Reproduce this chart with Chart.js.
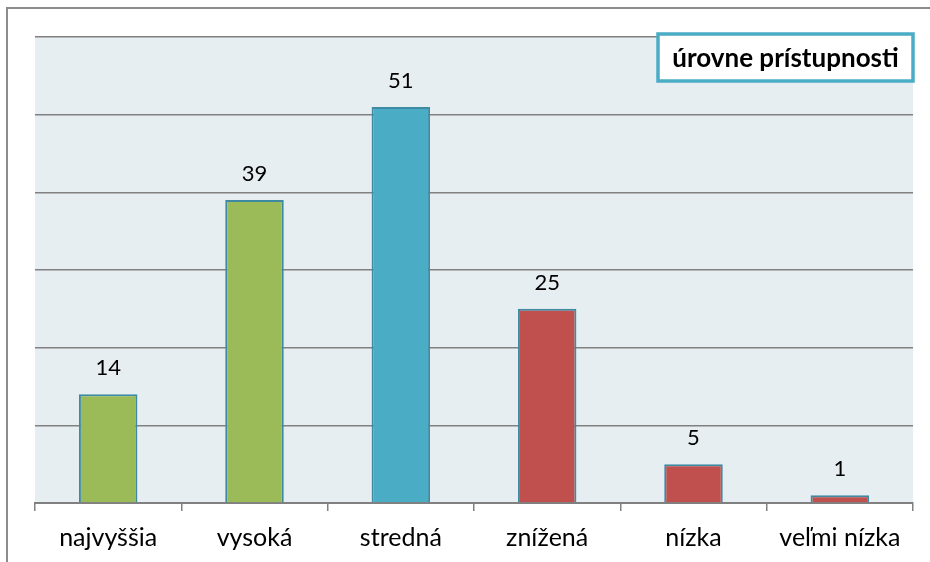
<!DOCTYPE html>
<html>
<head>
<meta charset="utf-8">
<script src="https://cdn.jsdelivr.net/npm/chart.js@4/dist/chart.umd.min.js"></script>
<style>
  html, body { margin: 0; padding: 0; background: #fff; }
  #wrap { width: 930px; height: 562px; position: relative; }
</style>
</head>
<body>
<div id="wrap"><canvas id="myChart"></canvas></div>
<script>
// categories and values
const categories = ['najvyššia', 'vysoká', 'stredná', 'znížená', 'nízka', 'veľmi nízka'];
const values = [14, 39, 51, 25, 5, 1];
const barColors = ['#9bbb59', '#9bbb59', '#4bacc6', '#c0504d', '#c0504d', '#c0504d'];
const legendText = 'úrovne prístupnosti';

const fontFamily = 'Lato, "Open Sans", sans-serif';

// fill the plot area and draw outer frame
const backgroundPlugin = {
  id: 'plotBg',
  beforeDraw(chart) {
    const { ctx, chartArea } = chart;
    ctx.save();
    ctx.fillStyle = '#e7eef2';
    ctx.fillRect(chartArea.left, chartArea.top, chartArea.right - chartArea.left, chartArea.bottom - chartArea.top);
    ctx.strokeStyle = '#8c8c8c';
    ctx.lineWidth = 2;
    ctx.strokeRect(7, 8, 1000, 1000);
    ctx.restore();
  }
};

// value labels above the bars and the boxed title
const labelsPlugin = {
  id: 'valueLabels',
  afterDatasetsDraw(chart) {
    const { ctx, chartArea } = chart;
    const meta = chart.getDatasetMeta(0);
    ctx.save();
    ctx.fillStyle = '#000';
    ctx.font = '22px ' + fontFamily;
    ctx.textAlign = 'center';
    ctx.textBaseline = 'middle';
    meta.data.forEach((bar, i) => {
      ctx.fillText(String(values[i]), bar.x, bar.y - 26);
    });

    // legend-like box
    const boxRight = chartArea.right;
    const boxTop = chartArea.top - 3;
    const boxW = 255, boxH = 47;
    ctx.fillStyle = '#fff';
    ctx.fillRect(boxRight - boxW, boxTop, boxW, boxH);
    ctx.strokeStyle = '#4bacc6';
    ctx.lineWidth = 3.5;
    ctx.strokeRect(boxRight - boxW, boxTop, boxW, boxH);
    ctx.fillStyle = '#000';
    ctx.font = 'bold 26px ' + fontFamily;
    ctx.fillText(legendText, boxRight - boxW / 2, boxTop + boxH / 2 + 1);
    ctx.restore();
  }
};

const ctx = document.getElementById('myChart').getContext('2d');
const myChart = new Chart(ctx, {
  type: 'bar',
  data: {
    labels: categories,
    datasets: [
      {
        label: legendText,
        data: values,
        backgroundColor: barColors,
        borderColor: '#3f8aa3',
        borderWidth: 2,
        barPercentage: 0.4,
        categoryPercentage: 1,
      },
    ],
  },
  options: {
    responsive: true,
    maintainAspectRatio: false,
    animation: false,
    layout: {
      padding: { left: 35, right: 17, top: 37, bottom: 0 },
    },
    plugins: {
      legend: { display: false },
      tooltip: { enabled: false },
    },
    scales: {
      x: {
        afterFit(scale) {
          scale.height = 59;
        },
        grid: {
          display: true,
          drawOnChartArea: false,
          drawTicks: true,
          tickLength: 8,
          color: '#808080',
          lineWidth: 1.5,
        },
        border: { display: true, color: '#808080', width: 2 },
        ticks: {
          color: '#000',
          font: { family: fontFamily, size: 25, lineHeight: 1.2 },
          padding: 12,
          maxRotation: 0,
        },
      },
      y: {
        min: 0,
        max: 60,
        ticks: { stepSize: 10, display: false },
        grid: {
          color: '#808080',
          lineWidth: 1.5,
          drawTicks: false,
        },
        border: { display: false },
      },
    },
  },
  plugins: [backgroundPlugin, labelsPlugin],
});
</script>
</body>
</html>
